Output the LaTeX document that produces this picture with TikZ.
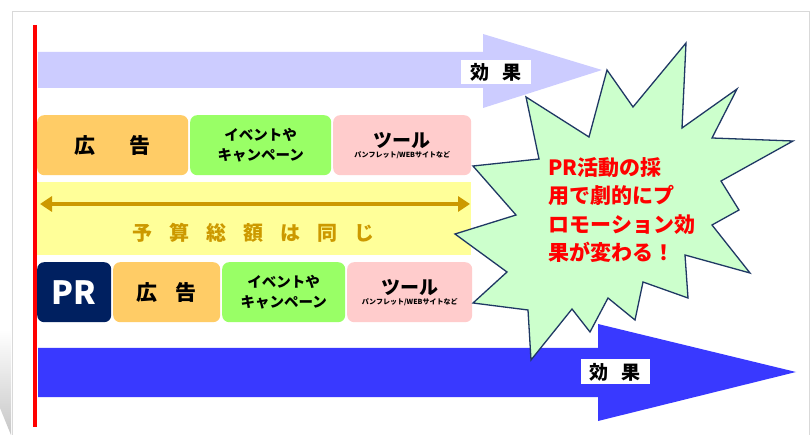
\documentclass[tikz,border=0pt]{standalone}
\usepackage{fontspec}
\setmainfont{Noto Sans CJK JP}
\usetikzlibrary{arrows.meta}

\definecolor{lavender}{RGB}{204,204,255}
\definecolor{arrowblue}{RGB}{57,57,255}
\definecolor{adorange}{RGB}{255,204,102}
\definecolor{evgreen}{RGB}{153,255,102}
\definecolor{toolpink}{RGB}{255,204,204}
\definecolor{prnavy}{RGB}{0,32,96}
\definecolor{bandyellow}{RGB}{255,255,153}
\definecolor{budgetgold}{RGB}{204,153,0}
\definecolor{starfill}{RGB}{204,255,204}
\definecolor{starline}{RGB}{31,56,100}

\newcommand{\jpsize}[2]{\fontsize{#1}{#2}\selectfont}
\newcommand{\jpgap}{\hspace{17pt}}

\tikzset{
  budget box/.style={rounded corners=7pt, inner sep=0pt, minimum height=60pt,
    anchor=north west, align=center},
  effect label/.style={fill=white, inner sep=0pt, minimum width=70pt,
    minimum height=24pt, font=\bfseries\jpsize{19}{20}},
}

\begin{document}
\begin{tikzpicture}[x=1pt,y=-1pt]
\useasboundingbox (0,0) rectangle (811,435);
% page frame and shadow
\shade[top color=white, bottom color=black!22] (0,330) -- (11,330) -- (11,435) -- (0,408) -- cycle;
\draw[black!15, fill=white] (12,11) rectangle (809,445);

% effect arrows
\fill[lavender] (38,52) -- (483,52) -- (483,34) -- (602,70) -- (483,108) -- (483,88) -- (38,88) -- cycle;
\node[effect label] (effect top) at (496,72) {効\hspace{13pt}果};
\fill[arrowblue] (38,348) -- (598,348) -- (598,324) -- (796,372) -- (598,421) -- (598,397) -- (38,397) -- cycle;
\node[effect label, minimum width=69pt, minimum height=25pt] (effect bottom) at (615,372) {効\hspace{13pt}果};

% budget now
\node[budget box, fill=adorange, minimum width=151pt, font=\bfseries\jpsize{21}{22}] (ad1) at (37,115) {広\hspace{34pt}告};
\node[budget box, fill=evgreen, minimum width=141pt, font=\bfseries\jpsize{14.5}{20}] (ev1) at (190,115) {イベントや\\キャンペーン};
\node[budget box, fill=toolpink, minimum width=138pt] (tool1) at (333,115)
  {{\bfseries\jpsize{19}{20}ツール}\\[-2pt]{\bfseries\jpsize{7}{8}パンフレット/WEBサイトなど}};

% same budget
\fill[bandyellow] (37,182) rectangle (471,255);
\coordinate (budget west) at (40,204);
\coordinate (budget east) at (470,204);
\draw[budgetgold, line width=3.5pt, {Triangle[length=12pt,width=15pt]}-{Triangle[length=12pt,width=15pt]}] (budget west) -- (budget east);
\node[text=budgetgold, font=\bfseries\jpsize{20}{20}] (same) at (253,233) {予\jpgap 算\jpgap 総\jpgap 額\jpgap は\jpgap 同\jpgap じ};

% budget with PR
\node[budget box, fill=prnavy, text=white, minimum width=74pt, font=\bfseries\jpsize{32}{32}] (pr) at (37,262) {PR};
\node[budget box, fill=adorange, minimum width=107pt, font=\bfseries\jpsize{21}{22}] (ad2) at (113,262) {広\hspace{18pt}告};
\node[budget box, fill=evgreen, minimum width=123pt, font=\bfseries\jpsize{14.5}{20}] (ev2) at (222,262) {イベントや\\キャンペーン};
\node[budget box, fill=toolpink, minimum width=125pt] (tool2) at (347,262)
  {{\bfseries\jpsize{19}{20}ツール}\\[-2pt]{\bfseries\jpsize{7}{8}パンフレット/WEBサイトなど}};

% burst
\filldraw[fill=starfill, draw=starline, line width=1.3pt, line join=miter]
  (686,43) -- (682,128) -- (737,89) -- (712,138) -- (793,141) -- (721,181)
  -- (739,210) -- (712,225) -- (750,273) -- (685,255) -- (688,298) -- (643,282)
  -- (635,320) -- (608,298) -- (590,332) -- (572,309) -- (531,360) -- (528,310)
  -- (473,303) -- (507,272) -- (455,234) -- (516,215) -- (473,166) -- (539,159)
  -- (526,97) -- (589,137) -- (607,70) -- (633,107) -- cycle;
\node[text=red, font=\bfseries\jpsize{21}{28.5}, align=left, anchor=west] (promo) at (545,210)
  {PR活動の採\\用で劇的にプ\\ロモーション効\\果が変わる！};

% time axis
\draw[red, line width=4.5pt] (35,25) -- (35,427);
\end{tikzpicture}
\end{document}
